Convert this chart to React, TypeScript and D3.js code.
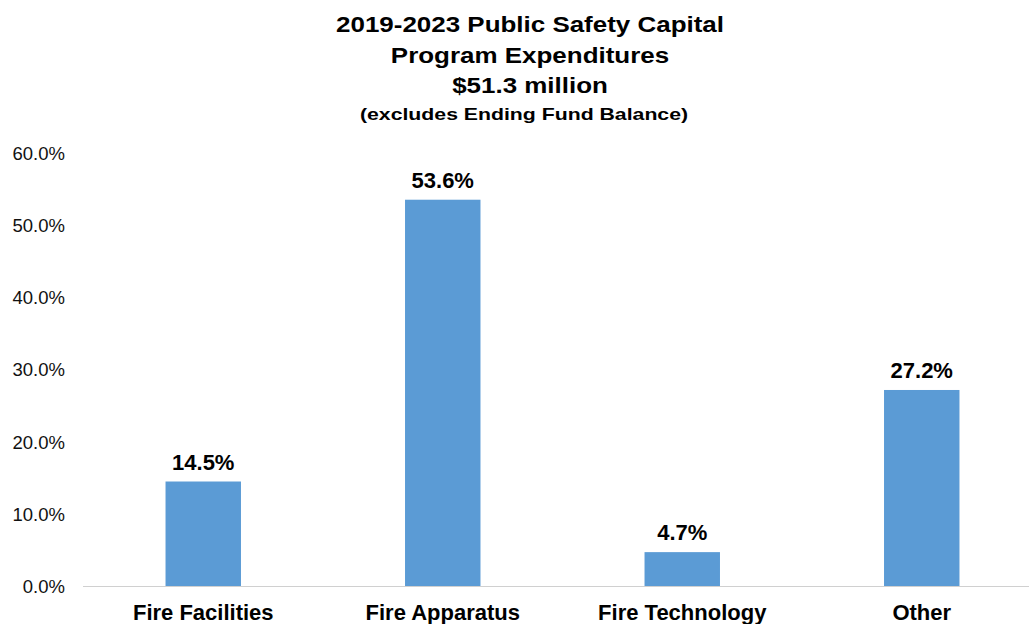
import React from "react";
import * as d3 from "d3";

const categories = ["Fire Facilities", "Fire Apparatus", "Fire Technology", "Other"];
const values = [14.5, 53.6, 4.7, 27.2];
const yTicks = [0, 10, 20, 30, 40, 50, 60];
const titleLines = ["2019-2023 Public Safety Capital", "Program Expenditures", "$51.3 million"];
const subtitle = "(excludes Ending Fund Balance)";

const W = 1029;
const H = 624;
const FONT = "'Liberation Sans', Arial, Helvetica, sans-serif";

export default function App() {
  const x = d3
    .scaleBand<string>()
    .domain(categories)
    .range([83.5, 1041.5])
    .paddingInner(0.685)
    .paddingOuter(0.3425);
  const y = d3.scaleLinear().domain([0, 60]).range([586, 153.6]);
  const fmt = (v: number) => d3.format(".1f")(v) + "%";

  const titleCx = 530;
  const titleBaselines = [31.5, 62.5, 93.3];

  return (
    <svg
      width={W}
      height={H}
      style={{ position: "absolute", left: 0, top: 0, background: "#fff" }}
      fontFamily={FONT}
    >
      <g>
        {titleLines.map((t, i) => (
          <text
            key={t}
            transform={`translate(${titleCx},${titleBaselines[i]}) scale(1.18,1)`}
            textAnchor="middle"
            fontSize={22}
            fontWeight="bold"
            fill="#000"
          >
            {t}
          </text>
        ))}
        <text
          transform={`translate(524,120) scale(1.25,1)`}
          textAnchor="middle"
          fontSize={17}
          fontWeight="bold"
          fill="#000"
        >
          {subtitle}
        </text>
      </g>

      {yTicks.map((t) => (
        <text
          key={t}
          x={65}
          y={y(t)}
          dy="0.36em"
          textAnchor="end"
          fontSize={18.5}
          fill="#111"
        >
          {fmt(t)}
        </text>
      ))}

      {categories.map((c, i) => (
        <g key={c}>
          <rect
            x={x(c)}
            y={y(values[i])}
            width={x.bandwidth()}
            height={y(0) - y(values[i])}
            fill="#5B9BD5"
          />
          <text
            x={(x(c) as number) + x.bandwidth() / 2}
            y={y(values[i]) - 12}
            textAnchor="middle"
            fontSize={22}
            fontWeight="bold"
            fill="#000"
          >
            {fmt(values[i])}
          </text>
          <text
            x={(x(c) as number) + x.bandwidth() / 2}
            y={620}
            textAnchor="middle"
            fontSize={22}
            fontWeight="bold"
            fill="#000"
          >
            {c}
          </text>
        </g>
      ))}

      <line x1={83} x2={W} y1={y(0) + 0.5} y2={y(0) + 0.5} stroke="#D0D0D0" strokeWidth={1.2} />
    </svg>
  );
}
